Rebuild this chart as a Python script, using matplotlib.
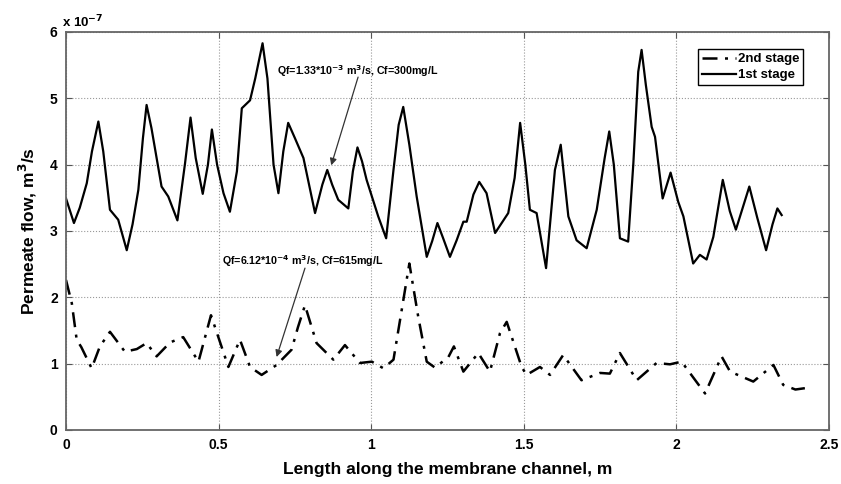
import matplotlib
matplotlib.use('Agg')
import matplotlib.pyplot as plt

plt.rcParams['font.family'] = ['Liberation Sans', 'DejaVu Sans']
plt.rcParams['font.weight'] = 'bold'

# 1st stage (solid), permeate flow in units of 1e-7 m3/s
x_stage1 = [0.000, 0.026, 0.045, 0.068, 0.085, 0.106, 0.122, 0.144, 0.171, 0.199,
            0.218, 0.237, 0.252, 0.264, 0.280, 0.313, 0.335, 0.365, 0.390, 0.408,
            0.425, 0.448, 0.465, 0.478, 0.495, 0.516, 0.537, 0.560, 0.576, 0.603,
            0.620, 0.644, 0.660, 0.680, 0.696, 0.712, 0.728, 0.750, 0.778, 0.816,
            0.840, 0.856, 0.872, 0.892, 0.925, 0.940, 0.955, 0.970, 0.985, 1.023,
            1.049, 1.073, 1.090, 1.105, 1.125, 1.149, 1.182, 1.200, 1.217, 1.235,
            1.258, 1.280, 1.302, 1.313, 1.335, 1.354, 1.378, 1.406, 1.449, 1.470,
            1.488, 1.505, 1.520, 1.542, 1.573, 1.602, 1.621, 1.646, 1.673, 1.706,
            1.739, 1.765, 1.780, 1.795, 1.815, 1.842, 1.859, 1.875, 1.886, 1.900,
            1.919, 1.930, 1.955, 1.981, 2.006, 2.023, 2.055, 2.077, 2.099, 2.121,
            2.152, 2.175, 2.195, 2.239, 2.265, 2.294, 2.315, 2.331, 2.345]
y_stage1 = [3.49, 3.12, 3.35, 3.72, 4.20, 4.65, 4.20, 3.32, 3.17, 2.71,
            3.10, 3.62, 4.40, 4.90, 4.55, 3.67, 3.52, 3.16, 4.02, 4.71,
            4.10, 3.56, 4.00, 4.53, 4.00, 3.57, 3.29, 3.90, 4.85, 4.97,
            5.30, 5.83, 5.30, 4.00, 3.57, 4.20, 4.63, 4.40, 4.10, 3.27,
            3.70, 3.92, 3.70, 3.47, 3.34, 3.90, 4.26, 4.05, 3.77, 3.22,
            2.89, 3.92, 4.60, 4.87, 4.30, 3.52, 2.61, 2.85, 3.12, 2.90,
            2.61, 2.86, 3.14, 3.14, 3.55, 3.74, 3.57, 2.97, 3.27, 3.80,
            4.63, 4.00, 3.32, 3.27, 2.44, 3.92, 4.30, 3.22, 2.86, 2.74,
            3.32, 4.10, 4.50, 4.00, 2.89, 2.84, 4.02, 5.40, 5.73, 5.20,
            4.57, 4.42, 3.49, 3.88, 3.44, 3.22, 2.51, 2.64, 2.57, 2.91,
            3.77, 3.30, 3.02, 3.67, 3.20, 2.71, 3.10, 3.34, 3.24]

# 2nd stage (dash-dot)
x_stage2 = [0.000, 0.019, 0.035, 0.050, 0.084, 0.111, 0.144, 0.193, 0.232, 0.264,
            0.297, 0.341, 0.384, 0.434, 0.475, 0.532, 0.570, 0.603, 0.641, 0.690,
            0.739, 0.760, 0.783, 0.821, 0.876, 0.914, 0.963, 1.002, 1.040, 1.073,
            1.100, 1.125, 1.154, 1.182, 1.209, 1.253, 1.271, 1.302, 1.351, 1.389,
            1.422, 1.444, 1.493, 1.509, 1.553, 1.586, 1.629, 1.689, 1.750, 1.782,
            1.815, 1.870, 1.935, 1.979, 2.017, 2.094, 2.148, 2.176, 2.252, 2.318,
            2.350, 2.390, 2.421]
y_stage2 = [2.26, 1.91, 1.36, 1.25, 0.93, 1.26, 1.48, 1.18, 1.22, 1.31,
            1.11, 1.32, 1.40, 1.03, 1.73, 0.95, 1.36, 0.95, 0.83, 0.98,
            1.21, 1.55, 1.88, 1.31, 1.06, 1.28, 1.01, 1.03, 0.93, 1.06,
            1.81, 2.51, 1.71, 1.03, 0.94, 1.10, 1.26, 0.88, 1.16, 0.88,
            1.46, 1.63, 0.95, 0.83, 0.95, 0.83, 1.13, 0.75, 0.86, 0.85,
            1.16, 0.75, 1.01, 0.99, 1.03, 0.55, 1.11, 0.88, 0.73, 0.98,
            0.68, 0.61, 0.63]

x_ticks = [0, 0.5, 1, 1.5, 2, 2.5]
x_tick_labels = ['0', '0.5', '1', '1.5', '2', '2.5']
y_ticks = [0, 1, 2, 3, 4, 5, 6]

fig = plt.figure(figsize=(8.41, 4.84), dpi=100)
ax = fig.add_axes([0.0785, 0.1116, 0.9072, 0.8223])

ax.plot(x_stage2, y_stage2, color='black', lw=1.8, dashes=(6, 3, 1.2, 3),
        label='2nd stage')
ax.plot(x_stage1, y_stage1, color='black', lw=1.6, label='1st stage')

ax.set_xlim(0, 2.5)
ax.set_ylim(0, 6)
ax.set_xticks(x_ticks)
ax.set_xticklabels(x_tick_labels)
ax.set_yticks(y_ticks)
ax.tick_params(direction='in', top=True, right=True, labelsize=10,
               length=4, color='#555555', pad=6)
for lab in ax.get_xticklabels() + ax.get_yticklabels():
    lab.set_fontweight('bold')
for sp in ax.spines.values():
    sp.set_color('#666666')
    sp.set_linewidth(1.3)
ax.grid(True, linestyle=':', color='#999999', linewidth=0.8)

ax.set_xlabel('Length along the membrane channel, m', fontsize=12.5,
              fontweight='bold', labelpad=7)
ax.set_ylabel('Permeate flow, m$^{\\mathbf{3}}$/s', fontsize=12.5,
              fontweight='bold', labelpad=8)

# MATLAB-style exponent label
ax.text(-0.005, 1.005, 'x 10$^{\\mathbf{-7}}$', transform=ax.transAxes,
        fontsize=9.5, fontweight='bold', ha='left', va='bottom')

# annotations
arrow_style = dict(arrowstyle='-|>', color='#333333', lw=0.9,
                   mutation_scale=10, shrinkA=0, shrinkB=0)
ax.text(0.691, 5.41, 'Qf=1.33*10$^{\\mathbf{-3}}$ m$^{\\mathbf{3}}$/s, Cf=300mg/L',
        fontsize=7.7, fontweight='bold', va='center', ha='left')
ax.annotate('', xy=(0.869, 3.99), xytext=(0.957, 5.32), arrowprops=arrow_style)
ax.text(0.510, 2.54, 'Qf=6.12*10$^{\\mathbf{-4}}$ m$^{\\mathbf{3}}$/s, Cf=615mg/L',
        fontsize=7.7, fontweight='bold', va='center', ha='left')
ax.annotate('', xy=(0.690, 1.10), xytext=(0.783, 2.44), arrowprops=arrow_style)

leg = ax.legend(loc='upper right', bbox_to_anchor=(0.966, 0.957),
                borderaxespad=0, fancybox=False, edgecolor='black',
                framealpha=1, fontsize=9.5, handlelength=2.6,
                handletextpad=0.1, borderpad=0.3, labelspacing=0.3)
leg.get_frame().set_linewidth(1.0)
for t in leg.get_texts():
    t.set_fontweight('bold')

fig.savefig('out.png', dpi=100)
